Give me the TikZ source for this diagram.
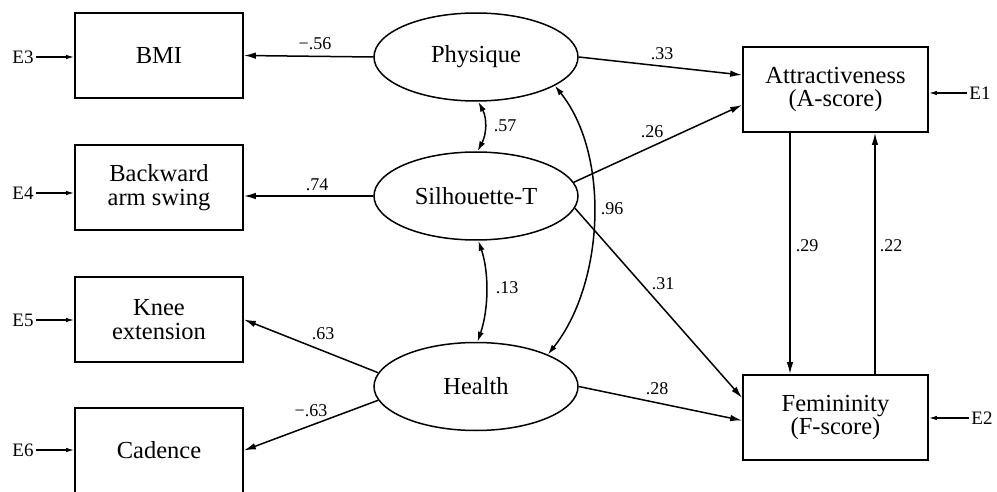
\documentclass[tikz,border=0pt]{standalone}
\usepackage{fontspec}
\setmainfont{Liberation Serif}
\usetikzlibrary{shapes.geometric,arrows.meta}
\begin{document}
\begin{tikzpicture}[x=1pt,y=-1pt,
  obs/.style={draw,line width=1.7pt,inner sep=0pt,minimum width=168pt,minimum height=85pt,align=center,font=\fontsize{24.5}{23.5}\selectfont},
  obsr/.style={obs,minimum width=185pt},
  lat/.style={draw,ellipse,line width=1.5pt,inner sep=0pt,minimum width=204pt,minimum height=88pt,font=\fontsize{24.5}{23.5}\selectfont},
  err/.style={inner sep=2.5pt,font=\fontsize{19}{19}\selectfont},
  lbl/.style={inner sep=0pt,font=\fontsize{18}{18}\selectfont},
  path/.style={line width=1.5pt,-{Latex[length=12pt,width=6.5pt]}},
  cov/.style={line width=1.5pt,{Latex[length=10pt,width=6pt]}-{Latex[length=10pt,width=6pt]}},
  earr/.style={line width=1.3pt,-{Latex[length=8pt,width=4.5pt]}}]
\useasboundingbox (0,0) rectangle (997,492);
% observed left
\node[obs] (bmi) at (159,55.5) {BMI};
\node[obs] (bwd) at (159,187.5) {Backward\\arm swing};
\node[obs] (knee) at (159,319.5) {Knee\\extension};
\node[obs] (cad) at (159,450.5) {Cadence};
% latent
\node[lat] (phys) at (476,57) {Physique};
\node[lat] (sil) at (476,196) {Silhouette-T};
\node[lat] (hlth) at (476,386.5) {Health};
% outcomes
\node[obsr] (attr) at (835.5,89.5) {Attractiveness\\(A-score)};
\node[obsr] (fem) at (835.5,417.5) {Femininity\\(F-score)};
% errors
\node[err] (e3) at (23,57) {E3};
\node[err] (e4) at (23,193) {E4};
\node[err] (e5) at (23,320) {E5};
\node[err] (e6) at (23,450) {E6};
\node[err] (e1) at (980,93) {E1};
\node[err] (e2) at (982,418) {E2};
\draw[earr] (e3.east) -- (bmi.west|-e3.east);
\draw[earr] (e4.east) -- (bwd.west|-e4.east);
\draw[earr] (e5.east) -- (knee.west|-e5.east);
\draw[earr] (e6.east) -- (cad.west|-e6.east);
\draw[earr] (e1.west) -- (attr.east|-e1.west);
\draw[earr] (e2.west) -- (fem.east|-e2.west);
% loadings
\draw[path] (phys.west) -- (bmi.east);
\draw[path] (sil.west) -- (bwd.east|-sil.west);
\draw[path] (hlth.172) -- (knee.east);
\draw[path] (hlth.188) -- (cad.east);
% structural paths
\draw[path] (phys.east) -- ([yshift=14.5pt]attr.west);
\draw[path] (sil.8) -- ([yshift=-15.5pt]attr.west);
\draw[path] (sil.-7) -- ([yshift=19.5pt]fem.west);
\draw[path] (hlth.east) -- ([yshift=-3pt]fem.west);
\draw[path] ([xshift=-45.5pt]attr.south) -- ([xshift=-45.5pt]fem.north);
\draw[path] ([xshift=39.5pt]fem.north) -- ([xshift=39.5pt]attr.south);
% covariances
\draw[cov] (phys.-87) .. controls +(9,17) and +(9,-17) .. (sil.88);
\draw[cov] (sil.-87) .. controls +(11,32) and +(11,-32) .. (hlth.88);
\draw[cov] (phys.-20) .. controls +(56,70) and +(56,-70) .. (hlth.24);
% labels
\node[lbl] at (315,44) {−.56};
\node[lbl] at (317,185) {.74};
\node[lbl] at (323,334) {.63};
\node[lbl] at (311,411) {−.63};
\node[lbl] at (662,54) {.33};
\node[lbl] at (652,132) {.26};
\node[lbl] at (612,209) {.96};
\node[lbl] at (663,284) {.31};
\node[lbl] at (657,389) {.28};
\node[lbl] at (807,246) {.29};
\node[lbl] at (891,246) {.22};
\node[lbl] at (505,126) {.57};
\node[lbl] at (507,288) {.13};
\end{tikzpicture}
\end{document}
